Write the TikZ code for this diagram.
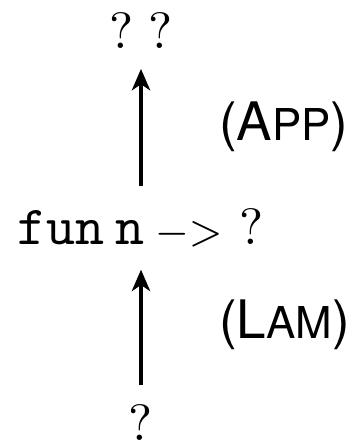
\documentclass[tikz,border=0pt]{standalone}
\usepackage{fontspec}
\newfontfamily\rulefont{TeX Gyre Heros}
\usetikzlibrary{arrows.meta}

\newcommand{\rulename}[2]{{\fontsize{10.4}{12.5}\rulefont(#1{\fontsize{8.6}{10}\selectfont #2})}}
\newcommand{\code}[1]{{\fontsize{10.8}{13}\selectfont\ttfamily #1}}

\begin{document}
\begin{tikzpicture}[x=0.196pt, y=-0.196pt]

	\tikzstyle{term}=[inner sep=0pt, anchor=base]
	\tikzstyle{rname}=[inner sep=0pt, anchor=base west]
	\tikzstyle{deriv}=[-{Stealth[length=4.2pt, width=3.6pt, inset=1.2pt]}, line width=0.65pt]

	\useasboundingbox (0,0) rectangle (358,444);

	\coordinate (t_0) at (141, 48); % ARRIBA
	\coordinate (t_1) at (141, 244); % MEDIO
	\coordinate (t_2) at (141, 440); % ABAJO
	\coordinate (r_app) at (218, 140);
	\coordinate (r_lam) at (218, 338);

	\node[term] (t_0) at (t_0) {$?\;?$}; % ARRIBA
	\node[term] (t_1) at (t_1) {\code{fun\hspace{2.2pt}n}\hspace{2pt}{\footnotesize$\mathord{-}\mathord{>}$}\hspace{3.4pt}$?$}; % MEDIO
	\node[term] (t_2) at (t_2) {$?$}; % ABAJO

	\node[rname] (r_app) at (r_app) {\rulename{A}{PP}};
	\node[rname] (r_lam) at (r_lam) {\rulename{L}{AM}};

	\draw[deriv, shorten <=3.7pt, shorten >=4pt] (t_2) -- (t_1);
	\draw[deriv, shorten <=4.3pt, shorten >=3.9pt] (t_1) -- (t_0);
\end{tikzpicture}
\end{document}
